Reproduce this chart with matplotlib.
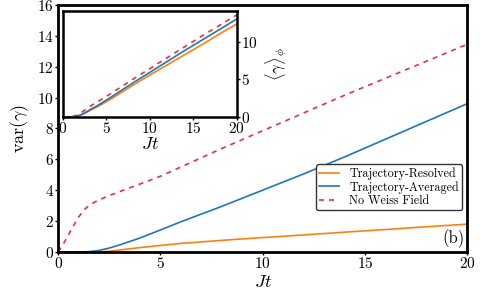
import matplotlib
matplotlib.use('Agg')
import matplotlib.pyplot as plt

plt.rcParams['font.family'] = 'serif'
plt.rcParams['font.serif'] = ['cmr10']
plt.rcParams['mathtext.fontset'] = 'cm'
plt.rcParams['axes.formatter.use_mathtext'] = True

# main panel data
jt_main = [0, 0.25, 0.5, 0.75, 1, 1.25, 1.5, 1.75, 2, 2.5, 3, 4, 5, 6, 8, 10, 12, 14, 16, 18, 20]
var_resolved = [0, 0, 0, 0, 0, 0, 0, 0, 0, 0.05, 0.12, 0.28, 0.42, 0.55, 0.75, 0.93, 1.1, 1.28, 1.45, 1.63, 1.8]
var_averaged = [0, 0, 0, 0, 0, 0.005, 0.02, 0.05, 0.1, 0.25, 0.45, 0.9, 1.42, 1.95, 2.95, 4.0, 5.05, 6.15, 7.3, 8.45, 9.6]
var_noweiss = [0, 0.5, 1.1, 1.7, 2.25, 2.7, 3.0, 3.2, 3.37, 3.65, 3.9, 4.4, 4.9, 5.5, 6.7, 7.85, 9.0, 10.15, 11.25, 12.35, 13.45]

# inset data
jt_inset = [0, 0.5, 1, 1.2, 1.5, 2, 2.5, 3, 4, 5, 6, 8, 10, 12, 14, 16, 18, 20]
mean_resolved = [0, 0, 0, 0, 0.05, 0.2, 0.45, 0.75, 1.35, 2.0, 2.7, 4.15, 5.55, 6.9, 8.25, 9.6, 11.0, 12.35]
mean_averaged = [0, 0, 0, 0.02, 0.07, 0.22, 0.5, 0.85, 1.5, 2.2, 2.95, 4.45, 5.9, 7.35, 8.8, 10.2, 11.6, 13.0]
mean_noweiss = [0, 0, 0, 0.05, 0.15, 0.45, 0.85, 1.3, 2.0, 2.7, 3.45, 4.95, 6.4, 7.85, 9.3, 10.75, 12.15, 13.55]

c_orange = '#ff7f0e'
c_blue = '#1f77b4'
c_red = '#e8323c'

fig = plt.figure(figsize=(4.8, 2.95), dpi=100)
ax = fig.add_axes([0.121, 0.146, 0.852, 0.837])
ax.plot(jt_main, var_resolved, color=c_orange, lw=1.2, label='Trajectory-Resolved')
ax.plot(jt_main, var_averaged, color=c_blue, lw=1.2, label='Trajectory-Averaged')
ax.plot(jt_main, var_noweiss, color=c_red, lw=1.2, ls=(0, (3, 3)), label='No Weiss Field')
ax.set_xlim(0, 20)
ax.set_ylim(0, 16)
ax.set_xticks([0, 5, 10, 15, 20])
ax.set_yticks([0, 2, 4, 6, 8, 10, 12, 14, 16])
ax.tick_params(labelsize=11, length=2, width=1, pad=1)
for s in ax.spines.values():
    s.set_linewidth(2)
ax.set_xlabel(r'$Jt$', fontsize=13, labelpad=2)
ax.set_ylabel(r'$\mathrm{var}(\gamma)$', fontsize=13, labelpad=4)
leg = ax.legend(loc='lower right', bbox_to_anchor=(0.988, 0.17), borderaxespad=0,
                fontsize=8.7, handlelength=1.6, handletextpad=0.9, borderpad=0.25,
                labelspacing=0.1, framealpha=1)
leg.get_frame().set_edgecolor('#333333')
ax.text(0.995, 0.015, '(b)', transform=ax.transAxes, ha='right', va='bottom', fontsize=12)

ins = fig.add_axes([0.1306, 0.604, 0.3624, 0.36])
ins.plot(jt_inset, mean_resolved, color=c_orange, lw=1.2)
ins.plot(jt_inset, mean_averaged, color=c_blue, lw=1.2)
ins.plot(jt_inset, mean_noweiss, color=c_red, lw=1.2, ls=(0, (3, 3)))
ins.set_xlim(0, 20)
ins.set_ylim(0, 14.13)
ins.set_xticks([0, 5, 10, 15, 20])
ins.set_yticks([0, 5, 10])
ins.yaxis.tick_right()
ins.yaxis.set_label_position('right')
ins.tick_params(labelsize=11, length=2, width=1, pad=1)
for s in ins.spines.values():
    s.set_linewidth(1.8)
ins.set_xlabel(r'$Jt$', fontsize=13, labelpad=0)
ins.set_ylabel(r'$\langle\gamma\rangle_\phi$', fontsize=12, labelpad=4)

fig.savefig('out.png', dpi=100)
